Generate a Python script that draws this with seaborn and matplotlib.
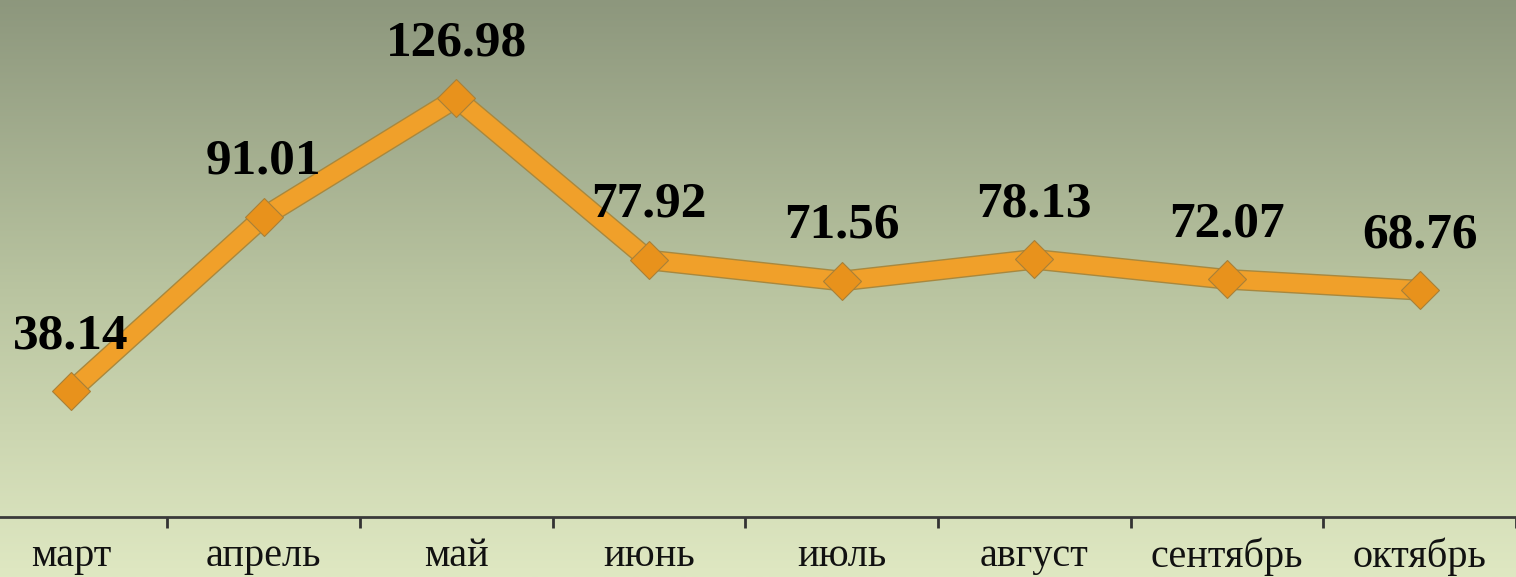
import numpy as np
import pandas as pd
import matplotlib
matplotlib.use("Agg")
import matplotlib.pyplot as plt
import matplotlib.patheffects as pe
import seaborn as sns
from matplotlib.colors import LinearSegmentedColormap

months = ["март", "апрель", "май", "июнь", "июль", "август", "сентябрь", "октябрь"]
values = [38.14, 91.01, 126.98, 77.92, 71.56, 78.13, 72.07, 68.76]
value_labels = ["38.14", "91.01", "126.98", "77.92", "71.56", "78.13", "72.07", "68.76"]

sns.set_theme(style="white")
plt.rcParams["font.family"] = ["Liberation Serif", "DejaVu Serif"]

W, H, DPI = 1516, 577, 100
fig = plt.figure(figsize=(W / DPI, H / DPI), dpi=DPI)

# gradient background over whole figure
bg = fig.add_axes([0, 0, 1, 1], zorder=0)
cmap = LinearSegmentedColormap.from_list("bg", ["#8d977d", "#b9c4a0", "#dfe8c2"])
grad = np.linspace(0, 1, 256).reshape(-1, 1)
bg.imshow(grad, aspect="auto", cmap=cmap, extent=[0, 1, 0, 1], origin="upper")
bg.axis("off")

ax = fig.add_axes([0, 1 - 517 / H, 1, 517 / H], zorder=1)
ax.patch.set_alpha(0)

df = pd.DataFrame({"x": np.arange(len(months)), "month": months, "value": values})

# thick orange line with darker outline
sns.lineplot(data=df, x="x", y="value", ax=ax, color="#f0a02a", linewidth=13,
             path_effects=[pe.Stroke(linewidth=15, foreground="#a8883e"), pe.Normal()],
             zorder=3)
# diamond markers
sns.lineplot(data=df, x="x", y="value", ax=ax, color="#e8921c", linewidth=0,
             marker="D", markersize=19, markerfacecolor="#e8921c",
             markeredgecolor="#a88038", markeredgewidth=0.8, zorder=4)

for i, (v, lab) in enumerate(zip(values, value_labels)):
    ax.annotate(lab, xy=(i, v), xytext=(0, 31), textcoords="offset points",
                ha="center", va="baseline", fontsize=37, fontweight="bold",
                color="black", zorder=5)

left_i = -71 / 193
right_i = (W - 71) / 193
ax.set_xlim(left_i, right_i)
ax.set_ylim(0, 517 / 3.298)

ax.set_xticks(np.arange(len(months)))
ax.set_xticklabels(months, fontsize=29, color="#111111")
ax.set_xticks(np.arange(len(months)) + 0.5, minor=True)
ax.tick_params(axis="x", which="both", bottom=True)
ax.tick_params(axis="x", which="major", length=0, pad=15)
ax.tick_params(axis="x", which="minor", length=8, width=2, color="#333333", direction="out")
ax.set_yticks([])
ax.set_xlabel("")
ax.set_ylabel("")
for s in ["top", "right", "left"]:
    ax.spines[s].set_visible(False)
ax.spines["bottom"].set_color("#3a3a3a")
ax.spines["bottom"].set_linewidth(2)
ax.grid(False)

fig.savefig("out.png", dpi=DPI)
